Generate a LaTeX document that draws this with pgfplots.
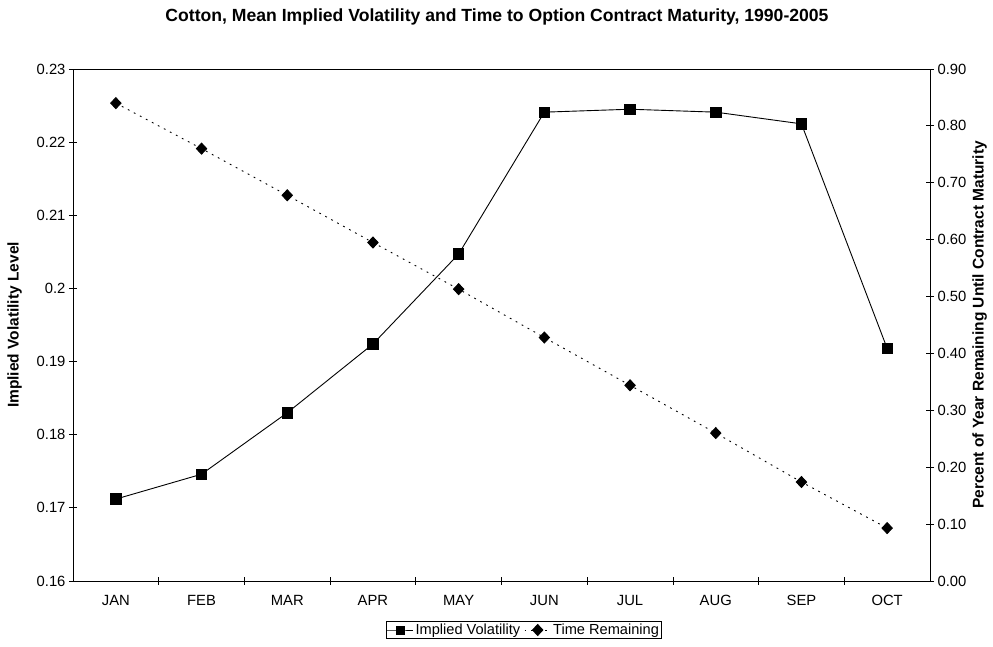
\documentclass[border=0pt]{standalone}
\usepackage{fontspec}
\setmainfont{Liberation Sans}
\usepackage{pgfplots}
\pgfplotsset{compat=1.18}

\pgfplotstableread{
x iv tr
0 0.1712 0.840
1 0.1746 0.760
2 0.1830 0.678
3 0.1924 0.595
4 0.2047 0.513
5 0.2241 0.428
6 0.2245 0.344
7 0.2241 0.260
8 0.2225 0.174
9 0.1918 0.093
}\cotton

\begin{document}
\begin{tikzpicture}
\pgfplotsset{
  every axis/.append style={
    scale only axis, width=857pt, height=512pt,
    xmin=-0.5, xmax=9.5,
    font=\fontsize{14.8}{16}\selectfont,
    /pgf/number format/assume math mode=true,
    tick align=center, major tick length=8pt, minor tick length=8pt,
    tick style={black, line width=0.8pt},
    axis line style={line width=0.9pt},
  },
}
\begin{axis}[
  axis y line*=left, axis x line*=bottom,
  ymin=0.16, ymax=0.23, ytick={0.16,0.17,...,0.231},
  yticklabel style={/pgf/number format/fixed, /pgf/number format/precision=2},
  xtick={0,...,9}, major x tick style={draw=none},
  xticklabels={JAN,FEB,MAR,APR,MAY,JUN,JUL,AUG,SEP,OCT},
  minor xtick={0.5,1.5,...,8.5},
  xticklabel style={yshift=-7pt},
  ylabel={\bfseries\fontsize{15.5}{17}\selectfont Implied Volatility Level},
  ylabel style={at={(axis description cs:-0.068,0.5)}, anchor=center},
]
\addplot[black, line width=0.9pt, mark=square*, mark size=5.2pt] table[x=x, y=iv] {\cotton};
\end{axis}
\begin{axis}[
  axis y line*=right, axis x line=none,
  ymin=0, ymax=0.9, ytick={0,0.1,...,0.91},
  yticklabel style={/pgf/number format/fixed, /pgf/number format/fixed zerofill, /pgf/number format/precision=2},
  ylabel={\bfseries\fontsize{15.5}{17}\selectfont Percent of Year Remaining Until Contract Maturity},
  ylabel style={at={(axis description cs:1.058,0.5)}, anchor=center, rotate=0},
  legend columns=2,
  legend style={at={(0.526,-0.0957)}, anchor=center, draw=black, line width=0.6pt,
    font=\fontsize{14.6}{16}\selectfont, inner sep=0.5pt,
    /tikz/every even column/.append style={column sep=2pt}},
  legend image code/.code={
    \draw[mark repeat=2, mark phase=2, #1] plot coordinates {(0pt,0pt) (13pt,0pt) (26pt,0pt)};},
  legend image post style={line width=0.9pt},
]
\addlegendimage{black, line width=0.9pt, mark=square*, mark size=4pt}
\addlegendentry{Implied Volatility}
\addplot[black, line width=0.9pt, dash pattern=on 1.8pt off 5pt, mark=diamond*, mark size=5.5pt,
  mark options={solid, xscale=1.25}] table[x=x, y=tr] {\cotton};
\addlegendentry{Time Remaining}
\draw[line width=0.6pt] (rel axis cs:0,1) -- (rel axis cs:1,1);
\end{axis}
\pgfresetboundingbox
\path[use as bounding box] ([xshift=-73pt,yshift=-66pt]current axis.south west) rectangle ([xshift=920pt,yshift=581pt]current axis.south west);
\node[font=\bfseries\fontsize{17.6}{19}\selectfont] at ([xshift=424pt,yshift=564pt]current axis.south west) {Cotton, Mean Implied Volatility and Time to Option Contract Maturity, 1990-2005};
\end{tikzpicture}
\end{document}
